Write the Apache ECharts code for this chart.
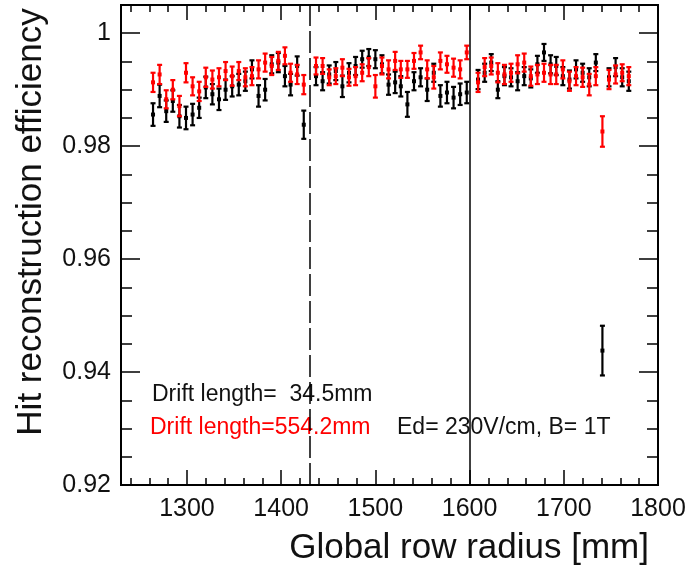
<!DOCTYPE html>
<html><head><meta charset="utf-8">
<script src="https://cdn.jsdelivr.net/npm/echarts@6/dist/echarts.min.js"></script>
<style>html,body{margin:0;padding:0;background:#fff}#c{width:695px;height:571px}</style>
</head><body><div id="c"></div>
<script>
// Global row radius [mm]
const radius = [
  1264,1271,1278,1285,1292,1299,1306,1313,1320,1327,1334,1341,1348,1355,1362,1369,1376,1383,1390,1397,1404,1410,1417,1424,
  1437,1444,1451,1458,1465,1472,1479,1486,1493,1500,1507,1514,1521,1527,1534,1541,1548,1555,1562,1569,1576,1583,1590,1597,
  1609,1616,1623,1630,1637,1644,1651,1658,1665,1672,1679,1686,1692,1699,1706,1713,1720,1727,1734,1741,1748,1755,1762,1769
];
// Drift length = 34.5 mm (black)
const effShort = [
  0.9856,0.9889,0.9862,0.9880,0.9853,0.9850,0.9856,0.9868,0.9904,0.9892,0.9883,0.9900,0.9906,0.9909,0.9915,0.9936,0.9889,0.9900,0.9945,0.9948,0.9924,0.9909,0.9942,0.9838,
  0.9924,0.9915,0.9927,0.9933,0.9906,0.9930,0.9942,0.9954,0.9957,0.9954,0.9945,0.9909,0.9913,0.9906,0.9874,0.9915,0.9922,0.9900,0.9930,0.9889,0.9895,0.9886,0.9892,0.9895,
  0.9918,0.9930,0.9948,0.9900,0.9924,0.9922,0.9915,0.9924,0.9920,0.9945,0.9966,0.9945,0.9942,0.9924,0.9918,0.9936,0.9930,0.9922,0.9948,0.9438,0.9922,0.9940,0.9922,0.9915
];
const errShort = [
  0.0020,0.0020,0.0019,0.0019,0.0020,0.0020,0.0019,0.0018,0.0019,0.0018,0.0019,0.0018,0.0018,0.0019,0.0017,0.0016,0.0019,0.0019,0.0016,0.0017,0.0018,0.0019,0.0017,0.0025,
  0.0016,0.0016,0.0016,0.0016,0.0019,0.0017,0.0016,0.0015,0.0015,0.0016,0.0016,0.0018,0.0019,0.0018,0.0022,0.0016,0.0016,0.0020,0.0016,0.0019,0.0019,0.0019,0.0019,0.0019,
  0.0017,0.0016,0.0015,0.0015,0.0016,0.0016,0.0016,0.0016,0.0016,0.0015,0.0015,0.0016,0.0016,0.0016,0.0016,0.0016,0.0016,0.0016,0.0015,0.0044,0.0016,0.0016,0.0016,0.0017
];
// Drift length = 554.2 mm (red)
const effLong = [
  0.9913,0.9927,0.9883,0.9900,0.9871,0.9930,0.9906,0.9897,0.9922,0.9918,0.9922,0.9933,0.9924,0.9933,0.9922,0.9924,0.9936,0.9948,0.9942,0.9951,0.9960,0.9930,0.9927,0.9909,
  0.9942,0.9942,0.9922,0.9924,0.9939,0.9922,0.9924,0.9930,0.9940,0.9906,0.9942,0.9936,0.9951,0.9936,0.9936,0.9951,0.9966,0.9936,0.9922,0.9951,0.9945,0.9939,0.9936,0.9966,
  0.9913,0.9940,0.9942,0.9930,0.9927,0.9930,0.9945,0.9948,0.9924,0.9927,0.9930,0.9927,0.9927,0.9936,0.9915,0.9924,0.9922,0.9909,0.9924,0.9826,0.9918,0.9927,0.9930,0.9924
];
const errLong = [
  0.0017,0.0017,0.0016,0.0017,0.0018,0.0017,0.0016,0.0017,0.0017,0.0016,0.0016,0.0016,0.0017,0.0016,0.0016,0.0016,0.0016,0.0016,0.0016,0.0016,0.0015,0.0016,0.0017,0.0017,
  0.0015,0.0014,0.0014,0.0014,0.0015,0.0015,0.0016,0.0015,0.0016,0.0020,0.0015,0.0016,0.0016,0.0015,0.0015,0.0014,0.0012,0.0016,0.0020,0.0015,0.0015,0.0016,0.0016,0.0012,
  0.0017,0.0016,0.0015,0.0017,0.0017,0.0016,0.0016,0.0016,0.0017,0.0017,0.0016,0.0017,0.0017,0.0016,0.0017,0.0016,0.0017,0.0019,0.0016,0.0027,0.0017,0.0016,0.0015,0.0016
];
const xRange = [1230, 1800];
const yRange = [0.92, 1.005];
const xMajorTicks = [1300,1400,1500,1600,1700,1800];
const xMinorTicks = [1240,1260,1280,1320,1340,1360,1380,1420,1440,1460,1480,1520,1540,1560,1580,1620,1640,1660,1680,1720,1740,1760,1780];
const yMajorTicks = [0.92,0.94,0.96,0.98,1.0];
const yMinorTicks = [0.925,0.93,0.935,0.945,0.95,0.955,0.965,0.97,0.975,0.985,0.99,0.995];
const dashedBoundary = 1430;
const solidBoundary = 1600;
const labelShort = 'Drift length=  34.5mm';
const labelLong = 'Drift length=554.2mm';
const labelCond = 'Ed= 230V/cm, B= 1T';
const xTitle = 'Global row radius [mm]';
const yTitle = 'Hit reconstruction efficiency';

const FONT = '"Liberation Sans", Arial, Helvetica, sans-serif';
const chart = echarts.init(document.getElementById('c'), null, {renderer: 'canvas'});

function makeData(eff, err) {
  return radius.map((r, i) => [r, eff[i], err[i]]);
}
function errRender(color) {
  return function (params, api) {
    const x = api.value(0), y = api.value(1), e = api.value(2);
    const top = api.coord([x, y + e]);
    const bot = api.coord([x, y - e]);
    const c = api.coord([x, y]);
    const w = 2.5;
    const st = {stroke: color, lineWidth: 2.2};
    return {type: 'group', children: [
      {type: 'line', shape: {x1: top[0], y1: top[1], x2: bot[0], y2: bot[1]}, style: st},
      {type: 'line', shape: {x1: top[0] - w, y1: top[1], x2: top[0] + w, y2: top[1]}, style: st},
      {type: 'line', shape: {x1: bot[0] - w, y1: bot[1], x2: bot[0] + w, y2: bot[1]}, style: st},
      {type: 'rect', shape: {x: c[0] - 2, y: c[1] - 2, width: 4, height: 4}, style: {fill: color}}
    ]};
  };
}
const axisLineStyle = {color: '#000', width: 2};
function xAx(pos, ticks, len, labels) {
  return {
    type: 'value', position: pos, min: xRange[0], max: xRange[1],
    axisLine: {show: true, onZero: false, lineStyle: axisLineStyle},
    axisTick: {show: true, inside: true, length: len, customValues: ticks, lineStyle: {color: '#000', width: 1.5}},
    axisLabel: labels ? {show: true, customValues: ticks, fontFamily: FONT, fontSize: 25, color: '#111', margin: 12,
      formatter: v => String(Math.round(v))} : {show: false},
    splitLine: {show: false}
  };
}
function yAx(pos, ticks, len, labels) {
  return {
    type: 'value', position: pos, min: yRange[0], max: yRange[1],
    axisLine: {show: true, onZero: false, lineStyle: axisLineStyle},
    axisTick: {show: true, inside: true, length: len, customValues: ticks, lineStyle: {color: '#000', width: 1.5}},
    axisLabel: labels ? {show: true, customValues: ticks, fontFamily: FONT, fontSize: 25, color: '#111', margin: 10,
      formatter: v => (Math.abs(v - 1) < 1e-9 ? '1' : v.toFixed(2))} : {show: false},
    splitLine: {show: false}
  };
}

chart.setOption({
  animation: false,
  backgroundColor: '#fff',
  grid: {left: 121, right: 37, top: 5, bottom: 86, containLabel: false},
  xAxis: [
    xAx('bottom', xMajorTicks, 15, true),
    xAx('bottom', xMinorTicks, 7, false),
    xAx('top', xMajorTicks, 15, false),
    xAx('top', xMinorTicks, 7, false)
  ],
  yAxis: [
    yAx('left', yMajorTicks, 19, true),
    yAx('left', yMinorTicks, 11, false),
    yAx('right', yMajorTicks, 19, false),
    yAx('right', yMinorTicks, 11, false)
  ],
  series: [
    {
      type: 'custom', name: labelShort, xAxisIndex: 0, yAxisIndex: 0,
      renderItem: errRender('#000000'),
      data: makeData(effShort, errShort),
      encode: {x: 0, y: 1},
      markLine: {
        silent: true, symbol: 'none', label: {show: false},
        lineStyle: {color: '#000', width: 1.5},
        data: [
          {xAxis: dashedBoundary, lineStyle: {type: [22, 5], color: '#000', width: 1.5}},
          {xAxis: solidBoundary, lineStyle: {type: 'solid', color: '#000', width: 1.5}}
        ]
      }
    },
    {
      type: 'custom', name: labelLong, xAxisIndex: 0, yAxisIndex: 0,
      renderItem: errRender('#ff0000'),
      data: makeData(effLong, errLong),
      encode: {x: 0, y: 1}
    }
  ],
  graphic: [
    {type: 'text', left: 152, top: 383, style: {text: labelShort, font: '23px ' + FONT, fill: '#111'}},
    {type: 'text', left: 150, top: 416, style: {text: labelLong, font: '23px ' + FONT, fill: '#ff0000'}},
    {type: 'text', left: 397, top: 416, style: {text: labelCond, font: '23px ' + FONT, fill: '#111'}},
    {type: 'text', right: 46, top: 531, style: {text: xTitle, font: '35px ' + FONT, fill: '#111'}},
    {type: 'text', x: 31, y: 222, rotation: Math.PI / 2,
      style: {text: yTitle, font: '35px ' + FONT, fill: '#111', align: 'center', verticalAlign: 'middle'}}
  ]
});
</script></body></html>
